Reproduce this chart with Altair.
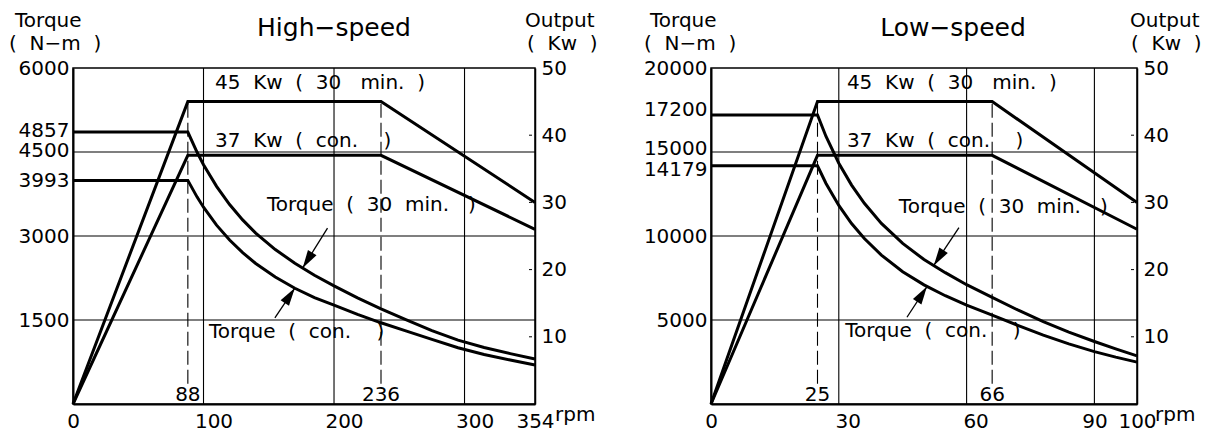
import altair as alt
import pandas as pd

FONT = "DejaVu Sans"


def sp(n):
    return "\u00a0" * n


# ---------------- High-speed panel data ----------------
HS_RPM = [0, 88, 95, 100, 110, 120, 130, 140, 155, 170, 185, 200, 218, 236, 255, 275, 295, 315, 335, 354]
HS_T30 = [4857, 4857, 4499, 4274, 3886, 3562, 3288, 3053, 2758, 2514, 2300, 2110, 1895, 1700, 1505, 1310, 1140, 1010, 900, 805]
HS_TCON = [3993, 3993, 3699, 3514, 3194, 2928, 2703, 2510, 2267, 2067, 1900, 1765, 1600, 1450, 1305, 1155, 1005, 885, 785, 697]
HS_P_RPM = [0, 88, 236, 354]
HS_P30 = [0, 45, 45, 30]
HS_PCON = [0, 37, 37, 26]
HS_XTICKS = [0, 100, 200, 300, 354]
HS_XGRID = [100, 200, 300]
HS_YTICKS = [1500, 3000, 3993, 4500, 4857, 6000]
HS_YGRID = [1500, 3000, 4500]
HS_BASE = [88, 236]

# ---------------- Low-speed panel data ----------------
LS_RPM = [0, 25, 27, 30, 33, 36, 40, 45, 50, 55, 60, 66, 72, 78, 84, 90, 95, 100]
LS_T30 = [17200, 17200, 15926, 14333, 13030, 11944, 10750, 9556, 8600, 7818, 7100, 6350, 5600, 4900, 4280, 3720, 3280, 2867]
LS_TCON = [14179, 14179, 13129, 11816, 10742, 9847, 8862, 7877, 7090, 6445, 5890, 5290, 4680, 4100, 3580, 3120, 2790, 2491]
LS_P_RPM = [0, 25, 66, 100]
LS_P30 = [0, 45, 45, 30]
LS_PCON = [0, 37, 37, 26]
LS_XTICKS = [0, 30, 60, 90, 100]
LS_XGRID = [30, 60, 90]
LS_YTICKS = [5000, 10000, 14179, 15000, 17200, 20000]
LS_YGRID = [5000, 10000, 15000]
LS_BASE = [25, 66]

P_TICKS = [10, 20, 30, 40, 50]
P_MAX = 50

H = 336


def build_panel(p):
    W = p["w"]
    xs = alt.Scale(domain=[0, p["xmax"]], nice=False, zero=False)
    xaxis = alt.Axis(values=p["xticks"], format="d", labelFont=FONT, labelFontSize=20,
                     labelColor="black", ticks=False, domainColor="black", domainWidth=2,
                     labelPadding=7, labelOverlap=False, labelFlush=False, grid=False,
                     title=None, labelOffset=p["xoff"])
    tscale = alt.Scale(domain=[0, p["tmax"]], nice=False, zero=True)
    taxis = alt.Axis(orient="left", values=p["yticks"], format="d", labelFont=FONT,
                     labelFontSize=20, labelColor="black", labelPadding=4, ticks=False,
                     domainColor="black", domainWidth=2, grid=False, title=None,
                     labelOverlap=False, labelFlush=False, labelOffset=p["yoff"])
    pscale = alt.Scale(domain=[0, P_MAX], nice=False, zero=True)
    paxis = alt.Axis(orient="right", values=P_TICKS, format="d", labelFont=FONT,
                     labelFontSize=20, labelColor="black", labelPadding=6, ticks=False,
                     domainColor="black", domainWidth=1.5, grid=False, title=None,
                     labelOverlap=False, labelFlush=False)

    def X(f):
        return alt.X(f, type="quantitative", scale=xs, axis=xaxis)

    def TY(f):
        return alt.Y(f, type="quantitative", scale=tscale, axis=taxis)

    def PY(f):
        return alt.Y(f, type="quantitative", scale=pscale, axis=paxis)

    n = len(p["rpm"])
    tdf = pd.DataFrame({"rpm": p["rpm"] * 2, "T": p["t30"] + p["tcon"],
                        "s": ["30"] * n + ["con"] * n})
    m = len(p["prpm"])
    pdf = pd.DataFrame({"rpm": p["prpm"] * 2, "P": p["p30"] + p["pcon"],
                        "s": ["30"] * m + ["con"] * m})

    vgrid = alt.Chart(pd.DataFrame({"g": p["xgrid"]})).mark_rule(
        color="black", strokeWidth=1.1).encode(x=X("g"))
    hgrid = alt.Chart(pd.DataFrame({"g": p["ygrid"]})).mark_rule(
        color="black", strokeWidth=1.1).encode(y=TY("g"))
    tlines = alt.Chart(tdf).mark_line(color="black", strokeWidth=3).encode(
        x=X("rpm"), y=TY("T"), detail="s:N")

    ttext = alt.Chart(pd.DataFrame(p["ttext"])).mark_text(
        align="left", baseline="middle", font=FONT, fontSize=20, color="black").encode(
        x=X("x"), y=TY("y"), text="t:N")

    arrows = alt.Chart(pd.DataFrame(p["arrows"])).mark_line(
        color="black", strokeWidth=1.3).encode(x=X("x"), y=TY("y"), detail="id:N")
    heads = alt.Chart(pd.DataFrame(p["heads"])).mark_point(
        shape="M0,0L-0.28,1L0.28,1Z", filled=True, size=1296, color="black",
        opacity=1, strokeWidth=0).encode(
        x=X("x"), y=TY("y"), angle=alt.Angle("a:Q", scale=None))

    torque_layer = alt.layer(vgrid, hgrid, tlines, ttext, arrows, heads)

    bdf = pd.DataFrame({"b": p["base"], "lo": [3, 3], "hi": [45, 45]})
    dashed = alt.Chart(bdf).mark_rule(color="black", strokeWidth=1.1,
                                      strokeDash=[14, 5]).encode(
        x=X("b"), y=PY("lo"), y2="hi")
    blabels = alt.Chart(bdf).mark_text(align="center", baseline="alphabetic", font=FONT,
                                       fontSize=20, color="black").encode(
        x=X("b"), y=alt.value(H - 3), text=alt.Text("b:Q", format="d"))
    plines = alt.Chart(pdf).mark_line(color="black", strokeWidth=3).encode(
        x=X("rpm"), y=PY("P"), detail="s:N")
    ptext = alt.Chart(pd.DataFrame(p["ptext"])).mark_text(
        align="left", baseline="middle", font=FONT, fontSize=20, color="black").encode(
        x=X("x"), y=PY("y"), text="t:N")
    inticks = alt.Chart(pd.DataFrame({"v": [10, 20, 30, 40]})).mark_rule(
        color="black", strokeWidth=1).encode(
        y=PY("v"), x=alt.value(W - 6), x2=alt.value(W - 3))

    power_layer = alt.layer(dashed, blabels, plines, ptext, inticks)

    headers = []
    for txt, hx, hy, size, align in p["headers"]:
        headers.append(
            alt.Chart(pd.DataFrame({"t": [txt]})).mark_text(
                align=align, baseline="alphabetic", font=FONT, fontSize=size,
                color="black").encode(x=alt.value(hx), y=alt.value(hy), text="t:N"))

    return alt.layer(torque_layer, power_layer, *headers).resolve_scale(
        y="independent").properties(width=W, height=H)


kw30 = "45" + sp(2) + "Kw" + sp(2) + "(" + sp(2) + "30" + sp(3) + "min." + sp(2) + ")"
kwcon = "37" + sp(2) + "Kw" + sp(2) + "(" + sp(2) + "con." + sp(4) + ")"
tq30 = "Torque" + sp(2) + "(" + sp(2) + "30" + sp(2) + "min." + sp(3) + ")"
tqcon = "Torque" + sp(2) + "(" + sp(2) + "con." + sp(4) + ")"
nm = "(" + sp(2) + "N\u2212m" + sp(2) + ")"
kwh = "(" + sp(2) + "Kw" + sp(2) + ")"

high = dict(
    w=462, xmax=354, tmax=6000,
    rpm=HS_RPM, t30=HS_T30, tcon=HS_TCON,
    prpm=HS_P_RPM, p30=HS_P30, pcon=HS_PCON,
    xticks=HS_XTICKS, xgrid=HS_XGRID, yticks=HS_YTICKS, ygrid=HS_YGRID, base=HS_BASE,
    xoff={"condition": {"test": "datum.value > 0 && datum.value < 354", "value": 10}, "value": 0},
    yoff={"condition": [{"test": "datum.value == 4500", "value": -2},
                        {"test": "datum.value == 4857", "value": -2}], "value": 0},
    ttext={"x": [148.6, 104.2], "y": [3554, 1286], "t": [tq30, tqcon]},
    ptext={"x": [108.8, 108.8], "y": [47.7, 39.2], "t": [kw30, kwcon]},
    arrows={"id": ["a", "a", "b", "b"], "x": [195, 176, 154.7, 170],
            "y": [3140, 2430, 1536, 2070]},
    heads={"x": [176, 170], "y": [2430, 2070], "a": [212, 34]},
    headers=[("Torque", -58, -41, 20, "left"), (nm, -64, -18, 20, "left"),
             ("Output", 452, -41, 20, "left"), (kwh, 454, -18, 20, "left"),
             ("High\u2212speed", 261, -32, 25, "center"),
             ("rpm", 482, H + 17, 20, "left")],
)

low = dict(
    w=426, xmax=100, tmax=20000,
    rpm=LS_RPM, t30=LS_T30, tcon=LS_TCON,
    prpm=LS_P_RPM, p30=LS_P30, pcon=LS_PCON,
    xticks=LS_XTICKS, xgrid=LS_XGRID, yticks=LS_YTICKS, ygrid=LS_YGRID, base=LS_BASE,
    xoff={"condition": {"test": "datum.value > 0 && datum.value < 90", "value": 9}, "value": 0},
    yoff={"condition": [{"test": "datum.value == 17200", "value": -6},
                        {"test": "datum.value == 15000", "value": -4},
                        {"test": "datum.value == 14179", "value": 4}], "value": 0},
    ttext={"x": [44.1, 31.5], "y": [11750, 4332], "t": [tq30, tqcon]},
    ptext={"x": [31.9, 31.9], "y": [47.7, 39.2], "t": [kw30, kwcon]},
    arrows={"id": ["a", "a", "b", "b"], "x": [58.2, 52.3, 46.0, 50.7],
            "y": [10504, 8250, 5163, 6990]},
    heads={"x": [52.3, 50.7], "y": [8250, 6990], "a": [213, 33]},
    headers=[("Torque", -61, -41, 20, "left"), (nm, -67, -18, 20, "left"),
             ("Output", 419, -41, 20, "left"), (kwh, 420, -18, 20, "left"),
             ("Low\u2212speed", 242, -32, 25, "center"),
             ("rpm", 444, H + 17, 20, "left")],
)

chart = alt.hconcat(build_panel(high), build_panel(low), spacing=176, bounds="flush").properties(
    padding={"left": 0, "top": 2, "right": 0, "bottom": 0}
).configure(font=FONT, background="white").configure_view(stroke="black", strokeWidth=1.5)

chart.save("out.html", embed_options={"renderer": "svg", "actions": False})
